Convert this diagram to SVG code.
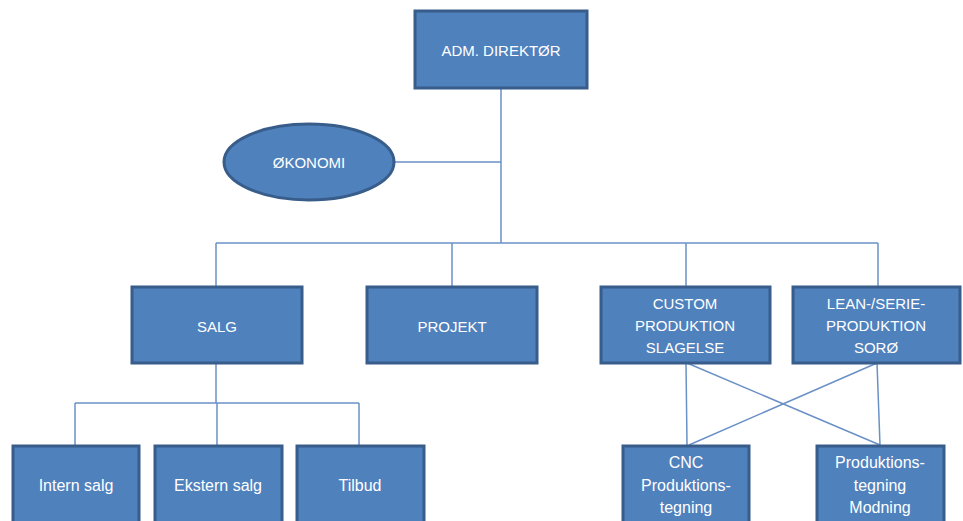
<svg xmlns="http://www.w3.org/2000/svg" width="963" height="521" viewBox="0 0 963 521">
<style>
.box{fill:#4F81BD;stroke:#385D8A;stroke-width:3}
.t{fill:#FFFFFF;font-family:"Liberation Sans",Arial,sans-serif;font-size:15px;text-anchor:middle;dominant-baseline:central}
.s{font-size:16px}
.c{fill:none;stroke:#6A91C6;stroke-width:1.5}
</style>
<rect width="963" height="521" fill="#FFFFFF"/>
<g id="connectors">
<path class="c" d="M501,88 V243"/>
<path class="c" d="M394,162 H501"/>
<path class="c" d="M216,243 H878"/>
<path class="c" d="M216,243 V286 M452,243 V286 M686,243 V286 M878,243 V286"/>
<path class="c" d="M216,363 V403 M75,403 H359 M75,403 V445 M217,403 V445 M359,403 V445"/>
<path class="c" d="M686,363 L687,445 M687,363 L880,445 M877,363 L689,445 M877,363 L880,445"/>
</g>
<g id="adm"><rect class="box" x="415" y="11" width="172" height="77"/><text class="t" x="501" y="50">ADM. DIREKTØR</text></g>
<g id="okonomi"><ellipse class="box" cx="309" cy="162" rx="85" ry="38"/><text class="t" x="309" y="162">ØKONOMI</text></g>
<g id="salg"><rect class="box" x="132" y="287" width="170" height="76"/><text class="t" x="217" y="326">SALG</text></g>
<g id="projekt"><rect class="box" x="367" y="287" width="170" height="76"/><text class="t" x="452" y="326">PROJEKT</text></g>
<g id="custom"><rect class="box" x="601" y="287" width="169" height="76"/><text class="t" x="685" y="303">CUSTOM</text><text class="t" x="685" y="325">PRODUKTION</text><text class="t" x="685" y="347">SLAGELSE</text></g>
<g id="lean"><rect class="box" x="793" y="287" width="167" height="76"/><text class="t" x="876" y="303">LEAN-/SERIE-</text><text class="t" x="876" y="325">PRODUKTION</text><text class="t" x="876" y="347">SORØ</text></g>
<g id="intern"><rect class="box" x="13" y="446" width="126" height="82"/><text class="t s" x="76" y="485">Intern salg</text></g>
<g id="ekstern"><rect class="box" x="155" y="446" width="127" height="82"/><text class="t s" x="218" y="485">Ekstern salg</text></g>
<g id="tilbud"><rect class="box" x="297" y="446" width="127" height="82"/><text class="t s" x="360" y="485">Tilbud</text></g>
<g id="cnc"><rect class="box" x="623" y="446" width="126" height="82"/><text class="t s" x="686" y="462">CNC</text><text class="t s" x="686" y="485">Produktions-</text><text class="t s" x="686" y="507">tegning</text></g>
<g id="modning"><rect class="box" x="817" y="446" width="127" height="82"/><text class="t s" x="880" y="462">Produktions-</text><text class="t s" x="880" y="485">tegning</text><text class="t s" x="880" y="507">Modning</text></g>
</svg>
